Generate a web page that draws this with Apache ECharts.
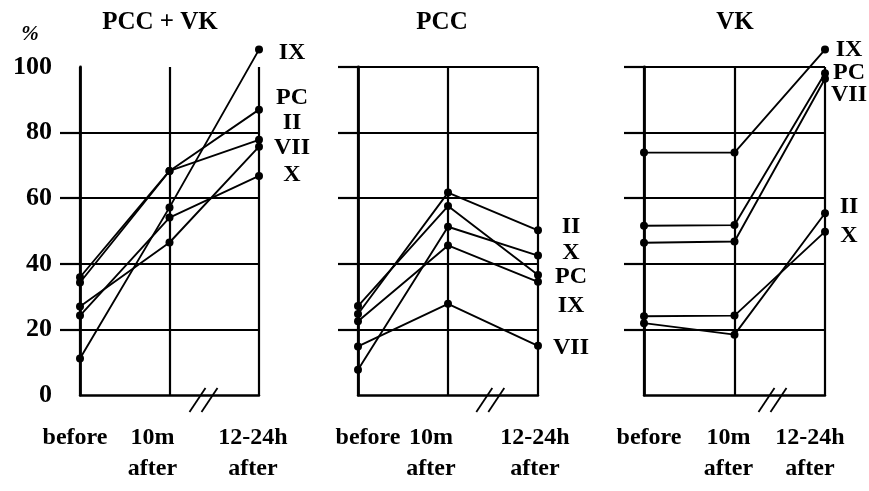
<!DOCTYPE html>
<html><head><meta charset="utf-8">
<script src="https://cdn.jsdelivr.net/npm/echarts@6/dist/echarts.min.js"></script>
<style>html,body{margin:0;padding:0;background:#fff}#c{width:869px;height:491px}</style>
</head><body><div id="c"></div>
<script>
// ---------- data ----------
const categories = ['before', '10m\nafter', '12-24h\nafter'];
const yTickValues = [0, 20, 40, 60, 80, 100];
const panelTitles = ['PCC + VK', 'PCC', 'VK'];
const seriesNames = ['IX', 'PC', 'II', 'VII', 'X'];

const pccvkIX  = [11.1, 57.2, 105.3];
const pccvkPC  = [35.9, 68.3, 87.0];
const pccvkII  = [34.3, 68.3, 77.8];
const pccvkVII = [27.0, 46.5, 75.7];
const pccvkX   = [24.2, 54.1, 66.8];

const pccIX  = [22.5, 45.6, 34.5];
const pccPC  = [27.1, 57.6, 36.6];
const pccII  = [24.7, 61.7, 50.2];
const pccVII = [14.8, 27.8, 15.0];
const pccX   = [7.7, 51.3, 42.5];

const vkIX  = [73.9, 73.9, 105.3];
const vkPC  = [51.6, 51.8, 98.1];
const vkII  = [21.9, 18.4, 55.4];
const vkVII = [46.4, 46.8, 96.4];
const vkX   = [24.0, 24.2, 49.8];

const panelData = [
  [pccvkIX, pccvkPC, pccvkII, pccvkVII, pccvkX],
  [pccIX, pccPC, pccII, pccVII, pccX],
  [vkIX, vkPC, vkII, vkVII, vkX]
];

// ---------- style / layout ----------
const FONT = "'Liberation Serif', 'Times New Roman', serif";
const grids = [
  {left: 80, top: 67, width: 179, height: 328, outerBoundsMode: 'none', containLabel: false},
  {left: 358, top: 67, width: 180, height: 328, outerBoundsMode: 'none', containLabel: false},
  {left: 644, top: 67, width: 181, height: 328, outerBoundsMode: 'none', containLabel: false}
];
const titleX = [160, 442, 735];
const xShift = [[-5, -17, -6], [10, -17, -3], [5, -6, -15]];
const labelDx = [33, 33, 24];
const labelDy = [
  {IX: 3, PC: -11.5, II: -16.6, VII: 1.5, X: -0.6},
  {IX: 24, PC: 2, II: -4, VII: 2, X: -3},
  {IX: 0, PC: 0, II: -6, VII: 16, X: 4}
];
const breakFrac = [0.38, 0.47, 0.42];

function richFor(p) {
  const r = {};
  xShift[p].forEach((s, i) => {
    r['s' + i] = {
      fontFamily: FONT, fontWeight: 'bold', fontSize: 24, lineHeight: 31, color: '#000',
      padding: s >= 0 ? [0, 0, 0, 2 * s] : [0, -2 * s, 0, 0]
    };
  });
  return r;
}

const chart = echarts.init(document.getElementById('c'), null, {renderer: 'canvas'});

const xAxes = [], yAxes = [], series = [];
for (let p = 0; p < 3; p++) {
  xAxes.push({
    type: 'category', gridIndex: p, data: categories, boundaryGap: false,
    axisLine: {show: true, lineStyle: {color: '#000', width: 2.5}},
    axisTick: {show: false},
    splitLine: {show: true, interval: 0, lineStyle: {color: '#000', width: 2.2}},
    axisLabel: {
      interval: 0, margin: 27, color: '#000', hideOverlap: false,
      formatter: (val, idx) => val.split('\n').map(l => '{s' + idx + '|' + l + '}').join('\n'),
      rich: richFor(p)
    }
  });
  yAxes.push({
    type: 'value', gridIndex: p, min: 0, max: 100, interval: 20,
    axisLine: {show: true, lineStyle: {color: '#000', width: 2.8}},
    axisTick: {
      show: true, length: 20, inside: false,
      customValues: p === 0 ? yTickValues.slice(1, 5) : yTickValues.slice(1),
      lineStyle: {color: '#000', width: 2.2}
    },
    axisLabel: {
      show: p === 0, margin: 28, color: '#000',
      fontFamily: FONT, fontWeight: 'bold', fontSize: 26,
      customValues: yTickValues
    },
    splitLine: {show: true, lineStyle: {color: '#000', width: 2.2}}
  });
  seriesNames.forEach((name, k) => {
    series.push({
      type: 'line', name: name + '_' + p, xAxisIndex: p, yAxisIndex: p,
      data: panelData[p][k], symbol: 'circle', symbolSize: 8, clip: false,
      lineStyle: {color: '#000', width: 1.9}, itemStyle: {color: '#000'},
      emphasis: {disabled: true}, silent: true, z: 5
    });
  });
}

chart.setOption({
  backgroundColor: '#fff',
  animation: false,
  grid: grids,
  xAxis: xAxes,
  yAxis: yAxes,
  series: series
});

// annotations placed via the chart's own scales
const g = [];
g.push({type: 'text', x: 30, y: 35, style: {text: '%', fontFamily: FONT, fontWeight: 'bold', fontStyle: 'italic', fontSize: 21, fill: '#000', align: 'center', verticalAlign: 'middle'}});
panelTitles.forEach((t, p) => {
  g.push({type: 'text', x: titleX[p], y: 23, style: {text: t, fontFamily: FONT, fontWeight: 'bold', fontSize: 25, fill: '#000', align: 'center', verticalAlign: 'middle'}});
});
for (let p = 0; p < 3; p++) {
  seriesNames.forEach((name, k) => {
    const d = panelData[p][k];
    const pt = chart.convertToPixel({gridIndex: p}, [d.length - 1, d[d.length - 1]]);
    g.push({type: 'text', x: pt[0] + labelDx[p], y: pt[1] + labelDy[p][name],
      style: {text: name, fontFamily: FONT, fontWeight: 'bold', fontSize: 24, fill: '#000', align: 'center', verticalAlign: 'middle'}});
  });
  const a = chart.convertToPixel({gridIndex: p}, [1, 0]);
  const b = chart.convertToPixel({gridIndex: p}, [2, 0]);
  const cx = a[0] + (b[0] - a[0]) * breakFrac[p], cy = a[1] + 5;
  [-6, 6].forEach(o => g.push({type: 'line', z: 10,
    shape: {x1: cx + o - 8, y1: cy + 12, x2: cx + o + 8, y2: cy - 12},
    style: {stroke: '#000', lineWidth: 1.8}}));
}
chart.setOption({graphic: g});
</script>
</body></html>
